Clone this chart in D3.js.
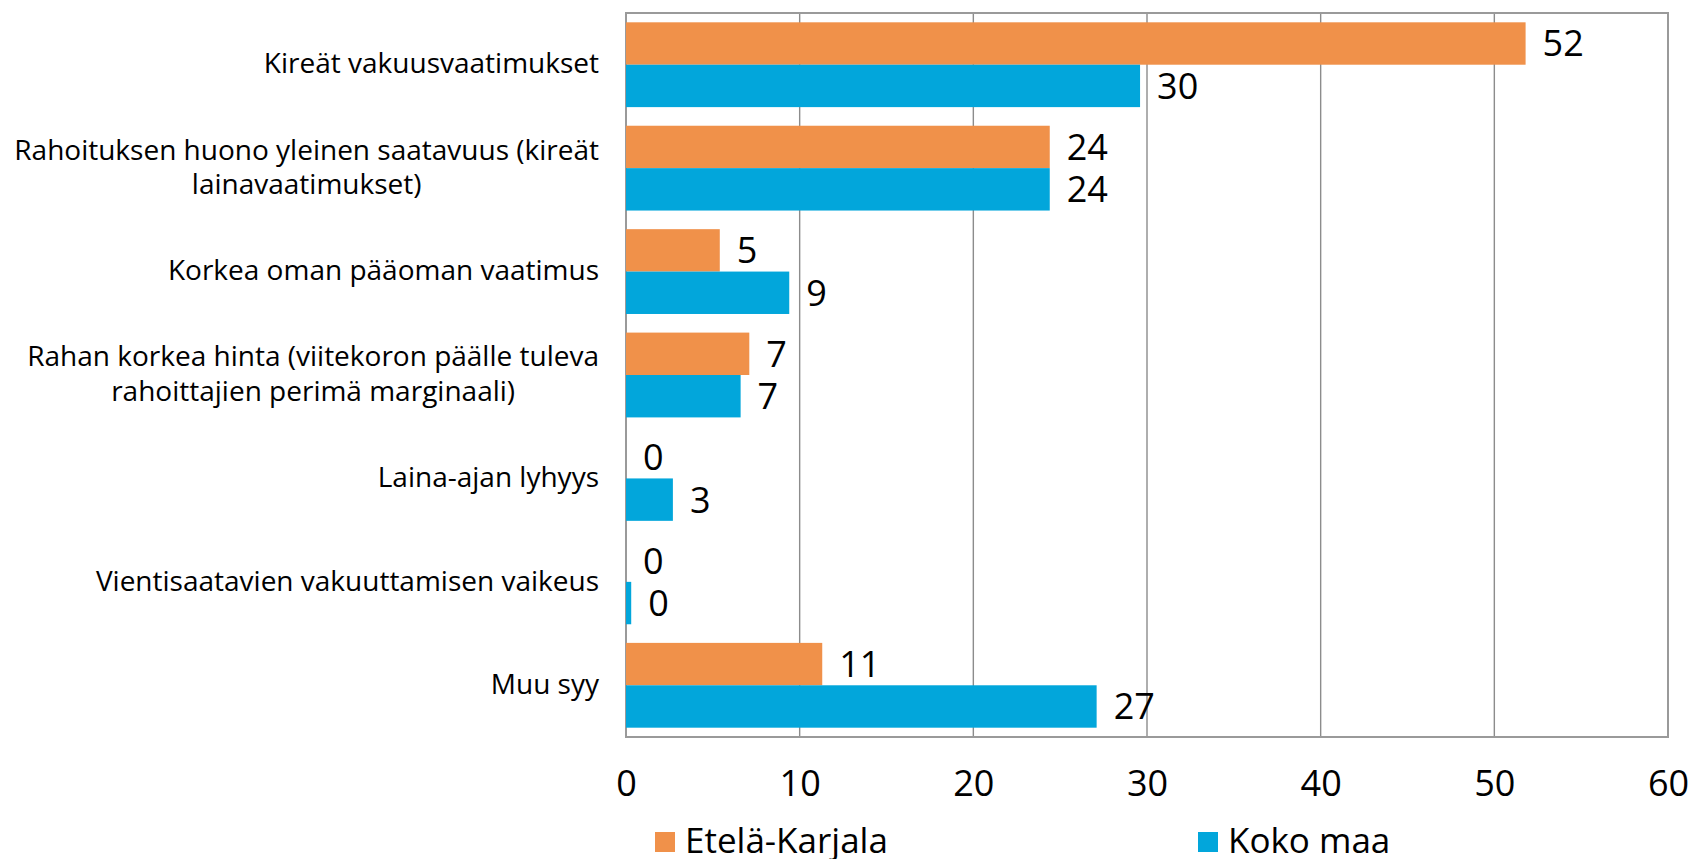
<!DOCTYPE html>
<html lang="fi">
<head>
    <meta charset="UTF-8">
    <title>Rahoituksen esteet</title>
    <script src="https://d3js.org/d3.v7.min.js"></script>
    <style>
        body {
            margin: 0;
            background: #fff;
        }
        svg text {
            font-family: "Open Sans", "Noto Sans", Arial, sans-serif;
            fill: #000;
        }
    </style>
</head>
<body>
    <div id="chart"></div>

    <script>
        // kategoriat ylhäältä alas
        const categories = [
            "Kireät vakuusvaatimukset",
            "Rahoituksen huono yleinen saatavuus (kireät lainavaatimukset)",
            "Korkea oman pääoman vaatimus",
            "Rahan korkea hinta (viitekoron päälle tuleva rahoittajien perimä marginaali)",
            "Laina-ajan lyhyys",
            "Vientisaatavien vakuuttamisen vaikeus",
            "Muu syy"
        ];
        const seriesNames = ["Etelä-Karjala", "Koko maa"];
        const seriesColors = ["#F0914A", "#02A6DB"];
        const etelaKarjala = [51.8, 24.4, 5.4, 7.1, 0, 0, 11.3];
        const kokoMaa = [29.6, 24.4, 9.4, 6.6, 2.7, 0.3, 27.1];
        const xTicks = [0, 10, 20, 30, 40, 50, 60];

        const W = 1690, H = 859;
        const margin = { top: 13, right: 22, bottom: 122, left: 626 },
            width = W - margin.left - margin.right,
            height = H - margin.top - margin.bottom;

        const svg = d3.select("#chart").append("svg")
            .attr("width", W)
            .attr("height", H);

        const g = svg.append("g")
            .attr("transform", `translate(${margin.left},${margin.top})`);

        const x = d3.scaleLinear().domain([0, 60]).range([0, width]);
        const y = d3.scaleBand().domain(categories).range([0, height])
            .paddingInner(0.18).paddingOuter(0.09);
        const ySub = d3.scaleBand().domain(seriesNames).range([0, y.bandwidth()]);

        // pystysuorat apuviivat
        g.append("g")
            .selectAll("line")
            .data(xTicks.slice(1, -1))
            .join("line")
            .attr("x1", d => x(d)).attr("x2", d => x(d))
            .attr("y1", 0).attr("y2", height)
            .attr("stroke", "#8c8c8c")
            .attr("stroke-width", 1.4);

        // kuvaajan reunat
        g.append("rect")
            .attr("x", 0).attr("y", 0)
            .attr("width", width).attr("height", height)
            .attr("fill", "none")
            .attr("stroke", "#9a9a9a")
            .attr("stroke-width", 2);

        const data = [];
        categories.forEach((c, i) => {
            data.push({ cat: c, s: seriesNames[0], v: etelaKarjala[i], col: seriesColors[0] });
            data.push({ cat: c, s: seriesNames[1], v: kokoMaa[i], col: seriesColors[1] });
        });

        g.selectAll(".bar")
            .data(data)
            .join("rect")
            .attr("class", "bar")
            .attr("x", 0)
            .attr("y", d => y(d.cat) + ySub(d.s))
            .attr("width", d => x(d.v))
            .attr("height", ySub.bandwidth())
            .attr("fill", d => d.col);

        // arvot palkkien päässä
        g.selectAll(".val")
            .data(data)
            .join("text")
            .attr("class", "val")
            .attr("x", d => x(d.v) + 17)
            .attr("y", d => y(d.cat) + ySub(d.s) + ySub.bandwidth() / 2)
            .attr("dy", "0.36em")
            .style("font-size", "36px")
            .text(d => d3.format(".0f")(d.v));

        // x-akselin tekstit
        const xAxis = g.append("g")
            .attr("transform", `translate(0,${height})`)
            .call(d3.axisBottom(x).tickValues(xTicks).tickSize(0).tickPadding(33));
        xAxis.select(".domain").remove();
        xAxis.selectAll("text")
            .style("font-size", "36px")
            .style("font-family", "\"Open Sans\", sans-serif")
            .attr("fill", "#000");

        // luokkien nimet, rivitetään
        const catFont = 28, lineH = 34.5, maxW = 600;
        const labels = g.append("g");
        categories.forEach(c => {
            const t = labels.append("text")
                .style("font-size", catFont + "px")
                .attr("text-anchor", "middle");
            const words = c.split(" ");
            const lines = [];
            let cur = "";
            const probe = labels.append("text").style("font-size", catFont + "px");
            words.forEach(w => {
                const test = cur ? cur + " " + w : w;
                probe.text(test);
                if (probe.node().getComputedTextLength() > maxW && cur) {
                    lines.push(cur);
                    cur = w;
                } else {
                    cur = test;
                }
            });
            lines.push(cur);
            let maxLen = 0;
            lines.forEach(l => {
                probe.text(l);
                maxLen = Math.max(maxLen, probe.node().getComputedTextLength());
            });
            probe.remove();
            const cx = -27 - maxLen / 2;
            const cy = y(c) + y.bandwidth() / 2;
            lines.forEach((l, i) => {
                t.append("tspan")
                    .attr("x", cx)
                    .attr("y", cy + (i - (lines.length - 1) / 2) * lineH)
                    .attr("dy", "0.31em")
                    .text(l);
            });
        });

        // selite
        const legendPos = [655, 1198];
        const legend = svg.append("g");
        seriesNames.forEach((s, i) => {
            legend.append("rect")
                .attr("x", legendPos[i]).attr("y", 832)
                .attr("width", 20).attr("height", 20)
                .attr("fill", seriesColors[i]);
            legend.append("text")
                .attr("x", legendPos[i] + 30).attr("y", 853)
                .style("font-size", "35px")
                .text(s);
        });
    </script>
</body>
</html>
